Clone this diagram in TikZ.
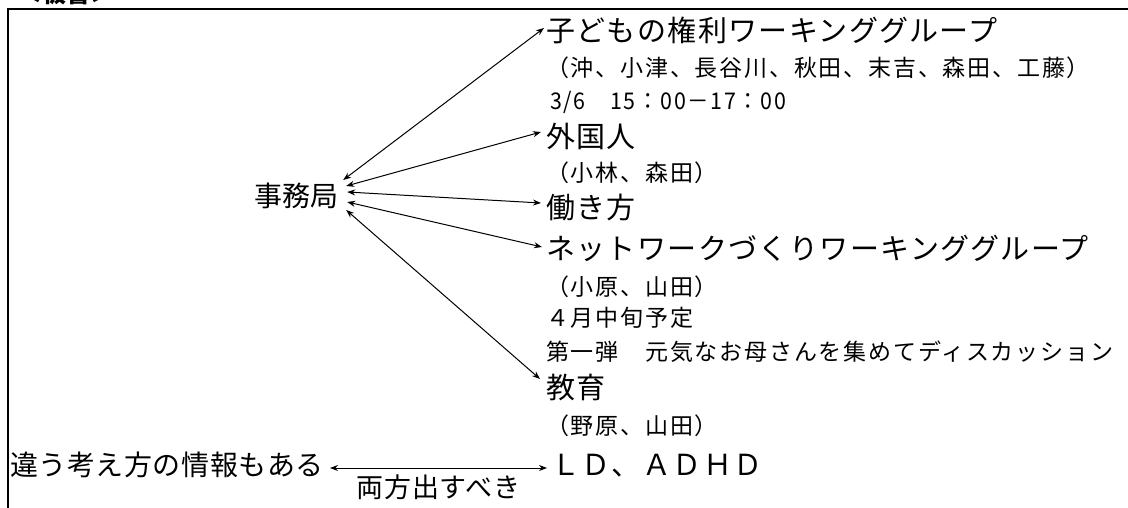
\documentclass[tikz,border=0pt]{standalone}
\usepackage{fontspec}
\usepackage{graphicx}
\setmainfont{Noto Sans CJK JP}
\newfontfamily\bigf[LetterSpace=4.8]{Noto Sans CJK JP}
\newfontfamily\smallf[LetterSpace=7.8]{Noto Sans CJK JP}
\newfontfamily\midf[LetterSpace=2]{Noto Sans CJK JP}
\newfontfamily\labf[LetterSpace=3]{Noto Sans CJK JP}
\usetikzlibrary{arrows.meta}
\tikzset{
  txt/.style={inner sep=0pt, anchor=base west},
  bigt/.style={txt, font=\bigf\fontsize{29pt}{32pt}\selectfont},
  smallt/.style={txt, font=\smallf\fontsize{23pt}{26pt}\selectfont},
  hubt/.style={inner sep=0pt, font=\fontsize{28pt}{30pt}\selectfont},
  leftt/.style={txt, font=\midf\fontsize{28pt}{30pt}\selectfont},
  labt/.style={inner sep=0pt, font=\labf\fontsize{27pt}{30pt}\selectfont},
  titlet/.style={inner sep=0pt, anchor=south west, font=\bfseries\fontsize{24pt}{26pt}\selectfont},
  link/.style={{Stealth[length=8pt,width=6pt]}-{Stealth[length=8pt,width=6pt]}, line width=1pt},
  frame/.style={line width=1.3pt}
}
\begin{document}
\begin{tikzpicture}[x=1pt,y=-1pt]
\useasboundingbox (0,0) rectangle (1128,507);
% frame
\coordinate (fb) at (8,510);
\coordinate (ftl) at (8,9);
\coordinate (ftr) at (1132,9);
\draw[frame] (fb) -- (ftl) -- (ftr);
\node[titlet] (title) at (18,5) {＜板書＞};
% hub
\node[hubt] (jimu) at (296,196) {事務局};
% right column
\node[bigt] (h1) at (546,41) {子どもの権利ワーキンググループ};
\node[smallt] (s1) at (546,76) {（沖、小津、長谷川、秋田、末吉、森田、工藤）};
\node[smallt] (s2) at (550,109) {\scalebox{0.93}[1]{3/6　15：00－17：00}};
\node[bigt] (h2) at (546,147) {外国人};
\node[smallt] (s3) at (546,181) {（小林、森田）};
\node[bigt] (h3) at (546,218) {働き方};
\node[bigt] (h4) at (546,259) {ネットワークづくりワーキンググループ};
\node[smallt] (s4) at (546,295) {（小原、山田）};
\node[smallt] (s5) at (546,326) {４月中旬予定};
\node[smallt] (s6) at (546,360) {第一弾　元気なお母さんを集めてディスカッション};
\node[bigt] (h5) at (546,398) {教育};
\node[smallt] (s7) at (546,434) {（野原、山田）};
% bottom row
\node[bigt] (ld) at (551,475) {ＬＤ、ＡＤＨＤ};
\node[leftt] (other) at (10,475) {違う考え方の情報もある};
% connectors
\draw[link] ([xshift=5pt,yshift=16pt]jimu.east) -- ([xshift=-2pt,yshift=13pt]h1.base west);
\draw[link] ([xshift=8pt,yshift=10pt]jimu.east) -- ([xshift=-5pt,yshift=15pt]h2.base west);
\draw[link] ([xshift=9pt,yshift=4pt]jimu.east) -- ([xshift=-5pt,yshift=15pt]h3.base west);
\draw[link] ([xshift=9pt,yshift=-6pt]jimu.east) -- ([xshift=-4pt,yshift=12pt]h4.base west);
\draw[link] ([xshift=8pt,yshift=-14pt]jimu.east) -- ([xshift=-6pt,yshift=19pt]h5.base west);
\draw[link] ([xshift=6pt,yshift=7pt]other.base east) -- node[labt, below=6pt] (both) {両方出すべき} ([xshift=-4pt,yshift=7pt]ld.base west);
\end{tikzpicture}
\end{document}
